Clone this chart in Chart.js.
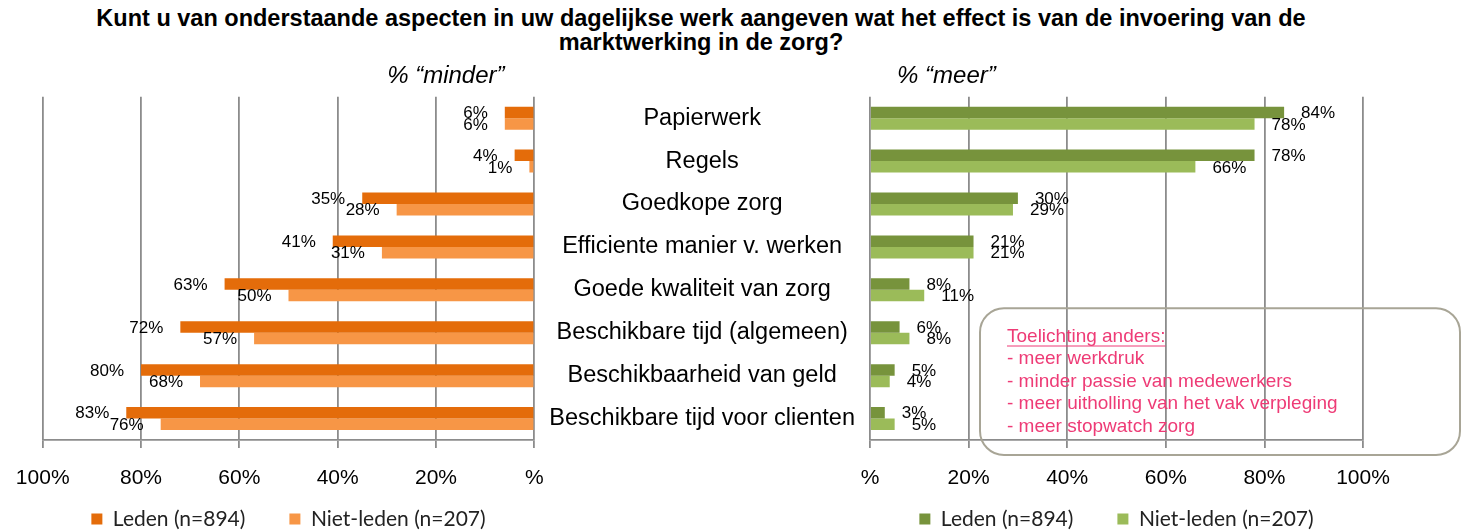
<!DOCTYPE html>
<html>
<head>
<meta charset="utf-8">
<script src="https://cdn.jsdelivr.net/npm/chart.js@4"></script>
<style>
  html, body { margin: 0; padding: 0; background: #fff; overflow: hidden; }
  #wrap { position: relative; width: 1463px; height: 532px; }
  #title { position: absolute; left: 0; top: 6px; width: 1402px; text-align: center;
           font: bold 23.5px "Liberation Sans", Arial, sans-serif; line-height: 24px; color: #000; }
  canvas { position: absolute; top: 0; }
  #left { left: 0; }
  #right { left: 540px; }
</style>
</head>
<body>
<div id="wrap">
  <div id="title">Kunt u van onderstaande aspecten in uw dagelijkse werk aangeven wat het effect is van de invoering van de<br>marktwerking in de zorg?</div>
  <canvas id="left" width="560" height="532"></canvas>
  <canvas id="right" width="923" height="532"></canvas>
</div>
<script>
// Data
const categories = [
  'Papierwerk', 'Regels', 'Goedkope zorg', 'Efficiente manier v. werken',
  'Goede kwaliteit van zorg', 'Beschikbare tijd (algemeen)',
  'Beschikbaarheid van geld', 'Beschikbare tijd voor clienten'
];
const seriesNames = ['Leden (n=894)', 'Niet-leden (n=207)'];
const minderLeden = [6, 4, 35, 41, 63, 72, 80, 83];
const minderNietLeden = [6, 1, 28, 31, 50, 57, 68, 76];
const meerLeden = [84, 78, 30, 21, 8, 6, 5, 3];
const meerNietLeden = [78, 66, 29, 21, 11, 8, 4, 5];
const xTicks = [0, 20, 40, 60, 80, 100];
const noteTitle = 'Toelichting anders:';
const noteLines = [
  '- meer werkdruk',
  '- minder passie van medewerkers',
  '- meer uitholling van het vak verpleging',
  '- meer stopwatch zorg'
];

const FONT = '"Liberation Sans", Arial, sans-serif';
const GRID = '#8c8c8c';

Chart.defaults.animation = false;
Chart.defaults.responsive = false;
Chart.defaults.maintainAspectRatio = false;
Chart.defaults.font.family = FONT;

// value labels next to the bar ends
const valueLabels = {
  id: 'valueLabels',
  afterDatasetsDraw(chart, args, opts) {
    const { ctx } = chart;
    ctx.save();
    ctx.font = '17px ' + FONT;
    ctx.fillStyle = '#000';
    ctx.textBaseline = 'middle';
    ctx.textAlign = opts.side === 'left' ? 'right' : 'left';
    chart.data.datasets.forEach((ds, i) => {
      chart.getDatasetMeta(i).data.forEach((bar, j) => {
        const x = opts.side === 'left' ? bar.x - 17 : bar.x + 17;
        ctx.fillText(ds.data[j] + '%', x, bar.y + 1);
      });
    });
    ctx.restore();
  }
};

// italic panel header ("% minder" / "% meer")
const panelHeader = {
  id: 'panelHeader',
  afterDraw(chart, args, opts) {
    const { ctx, chartArea, scales } = chart;
    ctx.save();
    ctx.font = 'italic 24px ' + FONT;
    ctx.fillStyle = '#000';
    ctx.textAlign = 'center';
    ctx.textBaseline = 'middle';
    ctx.fillText(opts.text, scales.x.getPixelForValue(opts.at), chartArea.top - 20);
    ctx.restore();
  }
};

// legend sits closer to the axis labels than its item padding allows
const legendShift = {
  id: 'legendShift',
  afterLayout(chart, args, opts) {
    const lg = chart.legend;
    const pad = lg.options.labels.padding;
    lg.top = opts.y - 10.5 - pad;
    lg.bottom = chart.height;
  }
};

// rounded note box on the right panel
const noteBox = {
  id: 'noteBox',
  afterDraw(chart) {
    const { ctx, chartArea: ca } = chart;
    ctx.save();
    ctx.strokeStyle = '#a8a596';
    ctx.lineWidth = 2;
    ctx.beginPath();
    ctx.roundRect(ca.left + 110, ca.top + 211.5, ca.right + 97 - (ca.left + 110), ca.bottom + 15 - (ca.top + 211.5), 24);
    ctx.stroke();

    ctx.font = '19px ' + FONT;
    ctx.fillStyle = '#ee3b76';
    ctx.strokeStyle = '#ee3b76';
    ctx.textBaseline = 'middle';
    ctx.textAlign = 'left';
    const x0 = ca.left + 137;
    let y = ca.bottom - 103.5;
    ctx.fillText(noteTitle, x0, y);
    const w = ctx.measureText(noteTitle).width;
    ctx.lineWidth = 1;
    ctx.beginPath();
    ctx.moveTo(x0, y + 9.5);
    ctx.lineTo(x0 + w, y + 9.5);
    ctx.stroke();
    noteLines.forEach(line => {
      y += 22.5;
      ctx.fillText(line, x0, y);
    });
    ctx.restore();
  }
};

function xScale(reverse) {
  return {
    type: 'linear',
    min: 0,
    max: 100,
    reverse: reverse,
    afterBuildTicks: s => { s.ticks = xTicks.map(v => ({ value: v })); },
    afterFit: s => { s.height = 52; },
    ticks: {
      padding: 18,
      color: '#000',
      font: { size: 21 },
      callback: v => (v === 0 ? '%' : v + '%')
    },
    grid: { color: GRID, lineWidth: 1.8, tickLength: 8, tickColor: GRID, drawTicks: true },
    border: { color: GRID, width: 1.8 }
  };
}

function legendOpts() {
  return {
    position: 'bottom',
    fullSize: false,
    maxHeight: 40,
    labels: {
      boxWidth: 11,
      boxHeight: 11,
      padding: 44,
      color: '#222',
      font: { family: 'Lato', size: 21 }
    }
  };
}

function datasets(a, b, colA, colB) {
  return [
    { label: seriesNames[0], data: a, backgroundColor: colA, borderWidth: 0 },
    { label: seriesNames[1], data: b, backgroundColor: colB, borderWidth: 0 }
  ];
}

const barShape = { barPercentage: 1, categoryPercentage: 0.536 };

new Chart(document.getElementById('left'), {
  type: 'bar',
  data: {
    labels: categories,
    datasets: datasets(minderLeden, minderNietLeden, '#e46c0a', '#f79646')
  },
  options: {
    indexAxis: 'y',
    datasets: { bar: barShape },
    layout: { padding: { left: 42.7, right: 25.7, top: 96.7, bottom: 0 } },
    scales: {
      x: xScale(true),
      y: { display: false }
    },
    plugins: {
      legend: legendOpts(),
      tooltip: { enabled: false },
      valueLabels: { side: 'left' },
      panelHeader: { text: '% \u201cminder\u201d', at: 18 },
      legendShift: { y: 519 }
    }
  },
  plugins: [valueLabels, panelHeader, legendShift]
});

new Chart(document.getElementById('right'), {
  type: 'bar',
  data: {
    labels: categories,
    datasets: datasets(meerLeden, meerNietLeden, '#77933c', '#9bbb59')
  },
  options: {
    indexAxis: 'y',
    datasets: { bar: barShape },
    layout: { padding: { left: 0, right: 100, top: 96.7, bottom: 0 } },
    scales: {
      x: xScale(false),
      y: {
        afterFit: s => { s.width = 330; },
        grid: { display: false, drawTicks: false },
        border: { display: false },
        ticks: { crossAlign: 'center', padding: 15, color: '#000', font: { size: 23.5 } }
      }
    },
    plugins: {
      legend: legendOpts(),
      tooltip: { enabled: false },
      valueLabels: { side: 'right' },
      panelHeader: { text: '% \u201cmeer\u201d', at: 15.5 },
      legendShift: { y: 519 }
    }
  },
  plugins: [valueLabels, panelHeader, noteBox, legendShift]
});
</script>
</body>
</html>
